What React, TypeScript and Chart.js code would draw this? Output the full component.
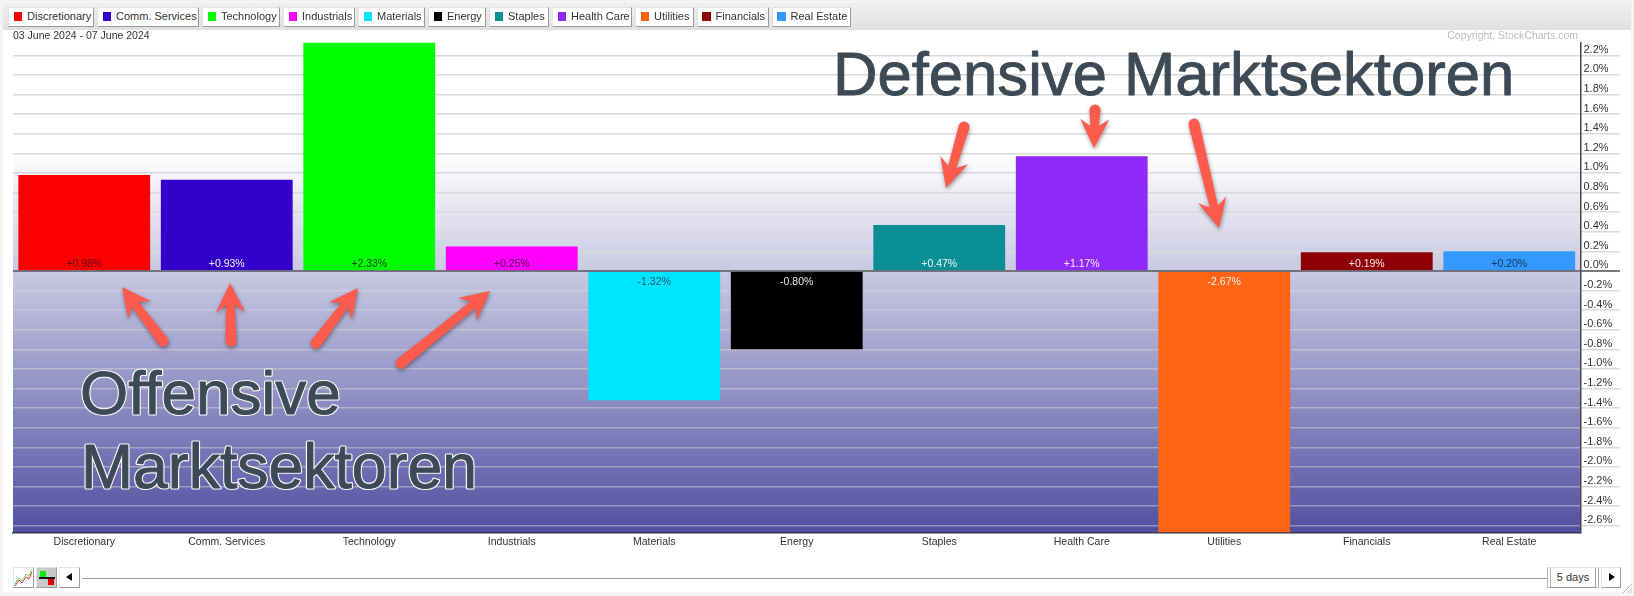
import React, { useEffect, useRef } from "react";
import { Chart, registerables } from "chart.js";

Chart.register(...registerables);

const categories = ["Discretionary", "Comm. Services", "Technology", "Industrials", "Materials", "Energy", "Staples", "Health Care", "Utilities", "Financials", "Real Estate"];
const changes = [0.98, 0.93, 2.33, 0.25, -1.32, -0.8, 0.47, 1.17, -2.67, 0.19, 0.2];
const barColors = ["#ff0000", "#3300cc", "#00ff00", "#ff00ff", "#00e5ff", "#000000", "#0a8f96", "#9028fa", "#ff6314", "#8f0005", "#3399ff"];
const valueLabelColors = ["#5a0a20", "#f0f0ff", "#0a4a10", "#4a0a4a", "#1a5a70", "#e8e8e8", "#f0f8f8", "#f4ecff", "#fff2ea", "#f8e8e8", "#0a3a60"];
const yTicks = [2.2, 2.0, 1.8, 1.6, 1.4, 1.2, 1.0, 0.8, 0.6, 0.4, 0.2, 0, -0.2, -0.4, -0.6, -0.8, -1.0, -1.2, -1.4, -1.6, -1.8, -2.0, -2.2, -2.4, -2.6];
const dateRange = "03 June 2024 - 07 June 2024";
const copyright = "Copyright, StockCharts.com";
const legendWidths = [86, 102, 78, 72, 67, 58, 60, 80, 58.5, 72, 79];

const FONT = '"Liberation Sans", Arial, sans-serif';

function drawArrow(ctx: CanvasRenderingContext2D, x0: number, y0: number, x1: number, y1: number) {
  const len = Math.hypot(x1 - x0, y1 - y0);
  const ux = (x1 - x0) / len, uy = (y1 - y0) / len;
  const nx = -uy, ny = ux;
  const at = (d: number, w: number): [number, number] => [x0 + ux * d + nx * w, y0 + uy * d + ny * w];
  const headLen = 29, headW = 14.5, tail = 5.5, neck = 4.2;
  ctx.save();
  ctx.shadowColor = "rgba(0,0,0,0.4)";
  ctx.shadowBlur = 4;
  ctx.shadowOffsetX = 0.5;
  ctx.shadowOffsetY = 2;
  ctx.fillStyle = "#fd5a4c";
  ctx.beginPath();
  const t1 = at(0, tail);
  ctx.moveTo(t1[0], t1[1]);
  const p = [at(len - headLen + 7, neck), at(len - headLen, headW), at(len, 0), at(len - headLen, -headW), at(len - headLen + 7, -neck), at(0, -tail)];
  p.forEach((q) => ctx.lineTo(q[0], q[1]));
  ctx.arc(x0, y0, tail, Math.atan2(-ny, -nx), Math.atan2(ny, nx), true);
  ctx.closePath();
  ctx.fill();
  ctx.restore();
}

const decor = {
  id: "decor",
  beforeDraw(chart: any) {
    const { ctx, chartArea: a, scales } = chart;
    ctx.save();
    const g = ctx.createLinearGradient(0, scales.y.getPixelForValue(1.2), 0, a.bottom);
    g.addColorStop(0, "#ffffff");
    g.addColorStop(1, "#5050a2");
    ctx.fillStyle = g;
    ctx.fillRect(a.left, a.top, a.right - a.left, a.bottom - a.top);
    ctx.restore();
  },
  afterDatasetsDraw(chart: any) {
    const { ctx, chartArea: a, scales } = chart;
    const y0 = scales.y.getPixelForValue(0);
    ctx.save();
    ctx.strokeStyle = "#555560";
    ctx.lineWidth = 1.5;
    ctx.beginPath();
    ctx.moveTo(a.left, y0);
    ctx.lineTo(1620, y0);
    ctx.stroke();
    ctx.font = `10.5px ${FONT}`;
    ctx.textAlign = "center";
    ctx.textBaseline = "middle";
    const meta = chart.getDatasetMeta(0);
    changes.forEach((v, i) => {
      ctx.fillStyle = valueLabelColors[i];
      const txt = (v > 0 ? "+" : "") + v.toFixed(2) + "%";
      ctx.fillText(txt, meta.data[i].x, v >= 0 ? y0 - 7 : y0 + 11);
    });
    ctx.restore();
  },
  afterDraw(chart: any) {
    const { ctx } = chart;
    ctx.save();
    ctx.font = `10.5px ${FONT}`;
    ctx.textBaseline = "middle";
    ctx.fillStyle = "#333";
    ctx.textAlign = "left";
    ctx.fillText(dateRange, 13, 36);
    ctx.fillStyle = "#bcbcbc";
    ctx.textAlign = "right";
    ctx.fillText(copyright, 1578, 36);

    drawArrow(ctx, 163, 341, 122, 287);
    drawArrow(ctx, 231, 341, 230, 283);
    drawArrow(ctx, 316, 343, 358, 288);
    drawArrow(ctx, 401, 363, 490, 291);
    drawArrow(ctx, 964, 127, 946, 188);
    drawArrow(ctx, 1095, 110, 1094, 148);
    drawArrow(ctx, 1194, 124, 1219, 228);

    ctx.textAlign = "left";
    ctx.textBaseline = "alphabetic";
    ctx.fillStyle = "#3b4a56";
    ctx.strokeStyle = "#3b4a56";
    ctx.lineWidth = 0.9;
    ctx.lineJoin = "round";
    ctx.font = `61.6px ${FONT}`;
    ctx.strokeText("Defensive Marktsektoren", 833, 95);
    ctx.fillText("Defensive Marktsektoren", 833, 95);

    const outlined = (text: string, x: number, y: number, size: number) => {
      ctx.font = `${size}px ${FONT}`;
      ctx.lineWidth = 3.2;
      ctx.strokeStyle = "rgba(255,255,255,0.95)";
      ctx.strokeText(text, x, y);
      ctx.lineWidth = 0.9;
      ctx.strokeStyle = "#3b4a56";
      ctx.strokeText(text, x, y);
      ctx.fillText(text, x, y);
    };
    outlined("Offensive", 80, 414, 62);
    outlined("Marktsektoren", 81, 488, 62.5);
    ctx.restore();
  },
};

const btn: React.CSSProperties = {
  position: "absolute",
  boxSizing: "border-box",
  background: "#fff",
  borderTop: "1px solid #e4e4e4",
  borderLeft: "1px solid #e4e4e4",
  borderRight: "1px solid #9a9a9a",
  borderBottom: "1px solid #9a9a9a",
};

export default function App() {
  const ref = useRef<HTMLCanvasElement>(null);
  useEffect(() => {
    const chart = new Chart(ref.current!, {
      type: "bar",
      data: {
        labels: categories,
        datasets: [{ data: changes, backgroundColor: barColors, categoryPercentage: 1, barPercentage: 0.925, borderWidth: 0 }],
      },
      plugins: [decor],
      options: {
        animation: false,
        responsive: false,
        devicePixelRatio: 1,
        layout: { padding: { left: 13, right: 14.5, top: 42.6, bottom: 0 } },
        plugins: { legend: { display: false }, tooltip: { enabled: false } },
        scales: {
          x: {
            grid: { display: false, drawTicks: false },
            border: { display: true, color: "#33334a", width: 1.5 },
            ticks: { autoSkip: false, maxRotation: 0, padding: 3, color: "#333", font: { family: FONT, size: 10.5 } },
            afterFit: (s: any) => { s.height = 63.4; },
          },
          y: {
            position: "right",
            min: -2.67,
            max: 2.33,
            afterBuildTicks: (s: any) => { s.ticks = yTicks.map((value) => ({ value })); },
            afterFit: (s: any) => { s.width = 39; },
            border: { display: true, color: "#44444e", width: 1.5 },
            grid: {
              tickLength: 39,
              lineWidth: 1.5,
              color: (c: any) => (c.tick && c.tick.value > 0 ? "#d9d9d9" : "rgba(222,222,215,0.45)"),
              tickColor: "#d9d9d9",
            },
            ticks: {
              autoSkip: false,
              padding: -36,
              labelOffset: -5.5,
              color: "#333",
              font: { family: FONT, size: 11 },
              callback: (v: any) => Number(v).toFixed(1) + "%",
            },
          },
        },
      },
    } as any);
    return () => chart.destroy();
  }, []);

  let lx = 8;
  const legend = categories.map((c, i) => {
    const left = lx;
    lx += legendWidths[i] + 3;
    return (
      <div key={c} style={{ ...btn, left, top: 7, width: legendWidths[i], height: 19.5, font: `11px ${FONT}`, color: "#333", lineHeight: "17px", whiteSpace: "nowrap" }}>
        <span style={{ position: "absolute", left: 4.5, top: 4, width: 8.5, height: 9, background: barColors[i] }} />
        <span style={{ position: "absolute", left: 18, top: 0 }}>{c}</span>
      </div>
    );
  });

  return (
    <div style={{ position: "fixed", left: 0, top: 0, width: 1634, height: 596, background: "#f3f3f3", overflow: "hidden", filter: "blur(0.3px)" }}>
      <div style={{ position: "absolute", left: 3, top: 3, width: 1628, height: 589, background: "#fff" }} />
      <div style={{ position: "absolute", left: 3, top: 3, width: 1628, height: 27, background: "linear-gradient(#efefef, #e0e0e0)" }} />
      <canvas ref={ref} width={1634} height={596} style={{ position: "absolute", left: 0, top: 0, width: 1634, height: 596 }} />
      {legend}
      <div style={{ ...btn, left: 13, top: 567, width: 21, height: 21 }}>
        <svg width="19" height="19" style={{ display: "block" }}>
          <polyline points="1,16 5,10 8,13 12,6 15,8 18,1" fill="none" stroke="#33cc33" strokeWidth="1" strokeDasharray="2 1" />
          <polyline points="1,18 5,12 8,15 12,9 15,11 18,4" fill="none" stroke="#e03030" strokeWidth="1" />
        </svg>
      </div>
      <div style={{ ...btn, left: 36, top: 567, width: 21, height: 21, background: "#c8c8c8" }}>
        <div style={{ position: "absolute", left: 3, top: 3, width: 6, height: 6, background: "#00ee00" }} />
        <div style={{ position: "absolute", left: 2, top: 9, width: 16, height: 1.5, background: "#111" }} />
        <div style={{ position: "absolute", left: 11, top: 11, width: 6, height: 6, background: "#dd0000" }} />
      </div>
      <div style={{ ...btn, left: 59, top: 567, width: 21, height: 21 }}>
        <div style={{ position: "absolute", left: 6, top: 5, width: 0, height: 0, borderTop: "4px solid transparent", borderBottom: "4px solid transparent", borderRight: "6px solid #000" }} />
      </div>
      <div style={{ position: "absolute", left: 82, top: 577.5, width: 1465, height: 1.5, background: "#9a9a9a" }} />
      <div style={{ ...btn, left: 1547, top: 567, width: 52, height: 21, font: `11px ${FONT}`, color: "#333", textAlign: "center", lineHeight: "19px", borderLeft: "4px double #bbb", borderRight: "4px double #aaa" }}>5 days</div>
      <div style={{ ...btn, left: 1601, top: 567, width: 20, height: 21 }}>
        <div style={{ position: "absolute", left: 7, top: 5, width: 0, height: 0, borderTop: "4px solid transparent", borderBottom: "4px solid transparent", borderLeft: "6px solid #000" }} />
      </div>
      <svg width="12" height="12" style={{ position: "absolute", left: 1621, top: 582 }}>
        <path d="M11,2 L2,11 M11,6 L6,11 M11,9 L9,11" stroke="#b5b5b5" strokeWidth="1" />
      </svg>
    </div>
  );
}
